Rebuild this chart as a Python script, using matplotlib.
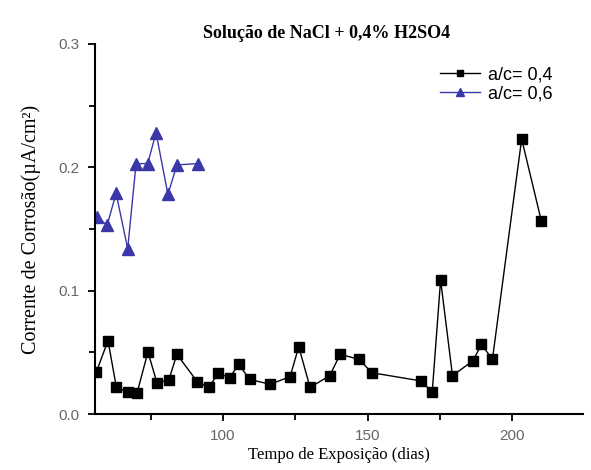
import matplotlib
matplotlib.use("Agg")
import matplotlib.pyplot as plt
from matplotlib.ticker import MultipleLocator, FormatStrFormatter

# a/c = 0,4
dias_04 = [56.3, 60.3, 63.2, 67.1, 70.3, 74.1, 77.2, 81.3, 84.1, 91.2,
           95.1, 98.4, 102.3, 105.5, 109.2, 116.3, 123.2, 126.2, 130.1, 136.9,
           140.5, 147.1, 151.4, 168.5, 172.3, 175.2, 179.3, 186.4, 189.3, 193.1,
           203.2, 210.0]
icorr_04 = [0.0343, 0.0595, 0.0216, 0.0178, 0.0168, 0.0503, 0.0254, 0.0276, 0.0484, 0.0260,
            0.0216, 0.0330, 0.0295, 0.0403, 0.0281, 0.0241, 0.0303, 0.0546, 0.0216, 0.0311,
            0.0484, 0.0443, 0.0335, 0.0268, 0.0176, 0.1087, 0.0311, 0.0432, 0.0565, 0.0443,
            0.2230, 0.1565]

# a/c = 0,6
dias_06 = [56.5, 60.0, 63.1, 67.1, 70.0, 74.0, 76.9, 81.0, 84.1, 91.3]
icorr_06 = [0.160, 0.153, 0.179, 0.134, 0.203, 0.203, 0.228, 0.178, 0.202, 0.203]

fig = plt.figure(figsize=(5.91, 4.70), dpi=100)
ax = fig.add_axes([0.1607, 0.1191, 0.8263, 0.7873])

blue = "#3a38a8"
ax.plot(dias_04, icorr_04, color="black", linewidth=1.0, marker="s",
        markersize=6.5, label="a/c= 0,4")
ax.plot(dias_06, icorr_06, color=blue, linewidth=1.0, marker="^",
        markersize=8, label="a/c= 0,6")

ax.set_xlim(55.8, 224.5)
ax.set_ylim(0.0, 0.3)
ax.xaxis.set_major_locator(MultipleLocator(50))
ax.xaxis.set_minor_locator(MultipleLocator(25))
ax.yaxis.set_major_locator(MultipleLocator(0.1))
ax.yaxis.set_minor_locator(MultipleLocator(0.05))
ax.yaxis.set_major_formatter(FormatStrFormatter("%.1f"))

for side in ("top", "right"):
    ax.spines[side].set_visible(False)
for side in ("left", "bottom"):
    ax.spines[side].set_linewidth(1.5)

ax.tick_params(which="major", direction="out", length=5, width=1.3,
               labelsize=11, labelcolor="#666666", pad=6)
ax.tick_params(which="minor", direction="out", length=4.5, width=1.3)
for lbl in ax.get_xticklabels() + ax.get_yticklabels():
    lbl.set_family("Liberation Sans")

ax.set_xlabel("Tempo de Exposição (dias)", family="Liberation Serif",
              fontsize=12, labelpad=3)
ax.set_ylabel("Corrente de Corrosão(µA/cm²)", family="Liberation Serif",
              fontsize=14.5, labelpad=13)
ax.set_title("Solução de NaCl + 0,4% H2SO4", family="Liberation Serif",
             fontweight="bold", fontsize=13, pad=4, x=0.475)

ax.legend(loc="upper right", bbox_to_anchor=(0.97, 0.984), frameon=False,
          prop={"family": "Liberation Sans", "size": 13},
          handlelength=2.2, handletextpad=0.45, labelspacing=0.12,
          markerscale=0.75)

fig.savefig("out.png", dpi=100)
